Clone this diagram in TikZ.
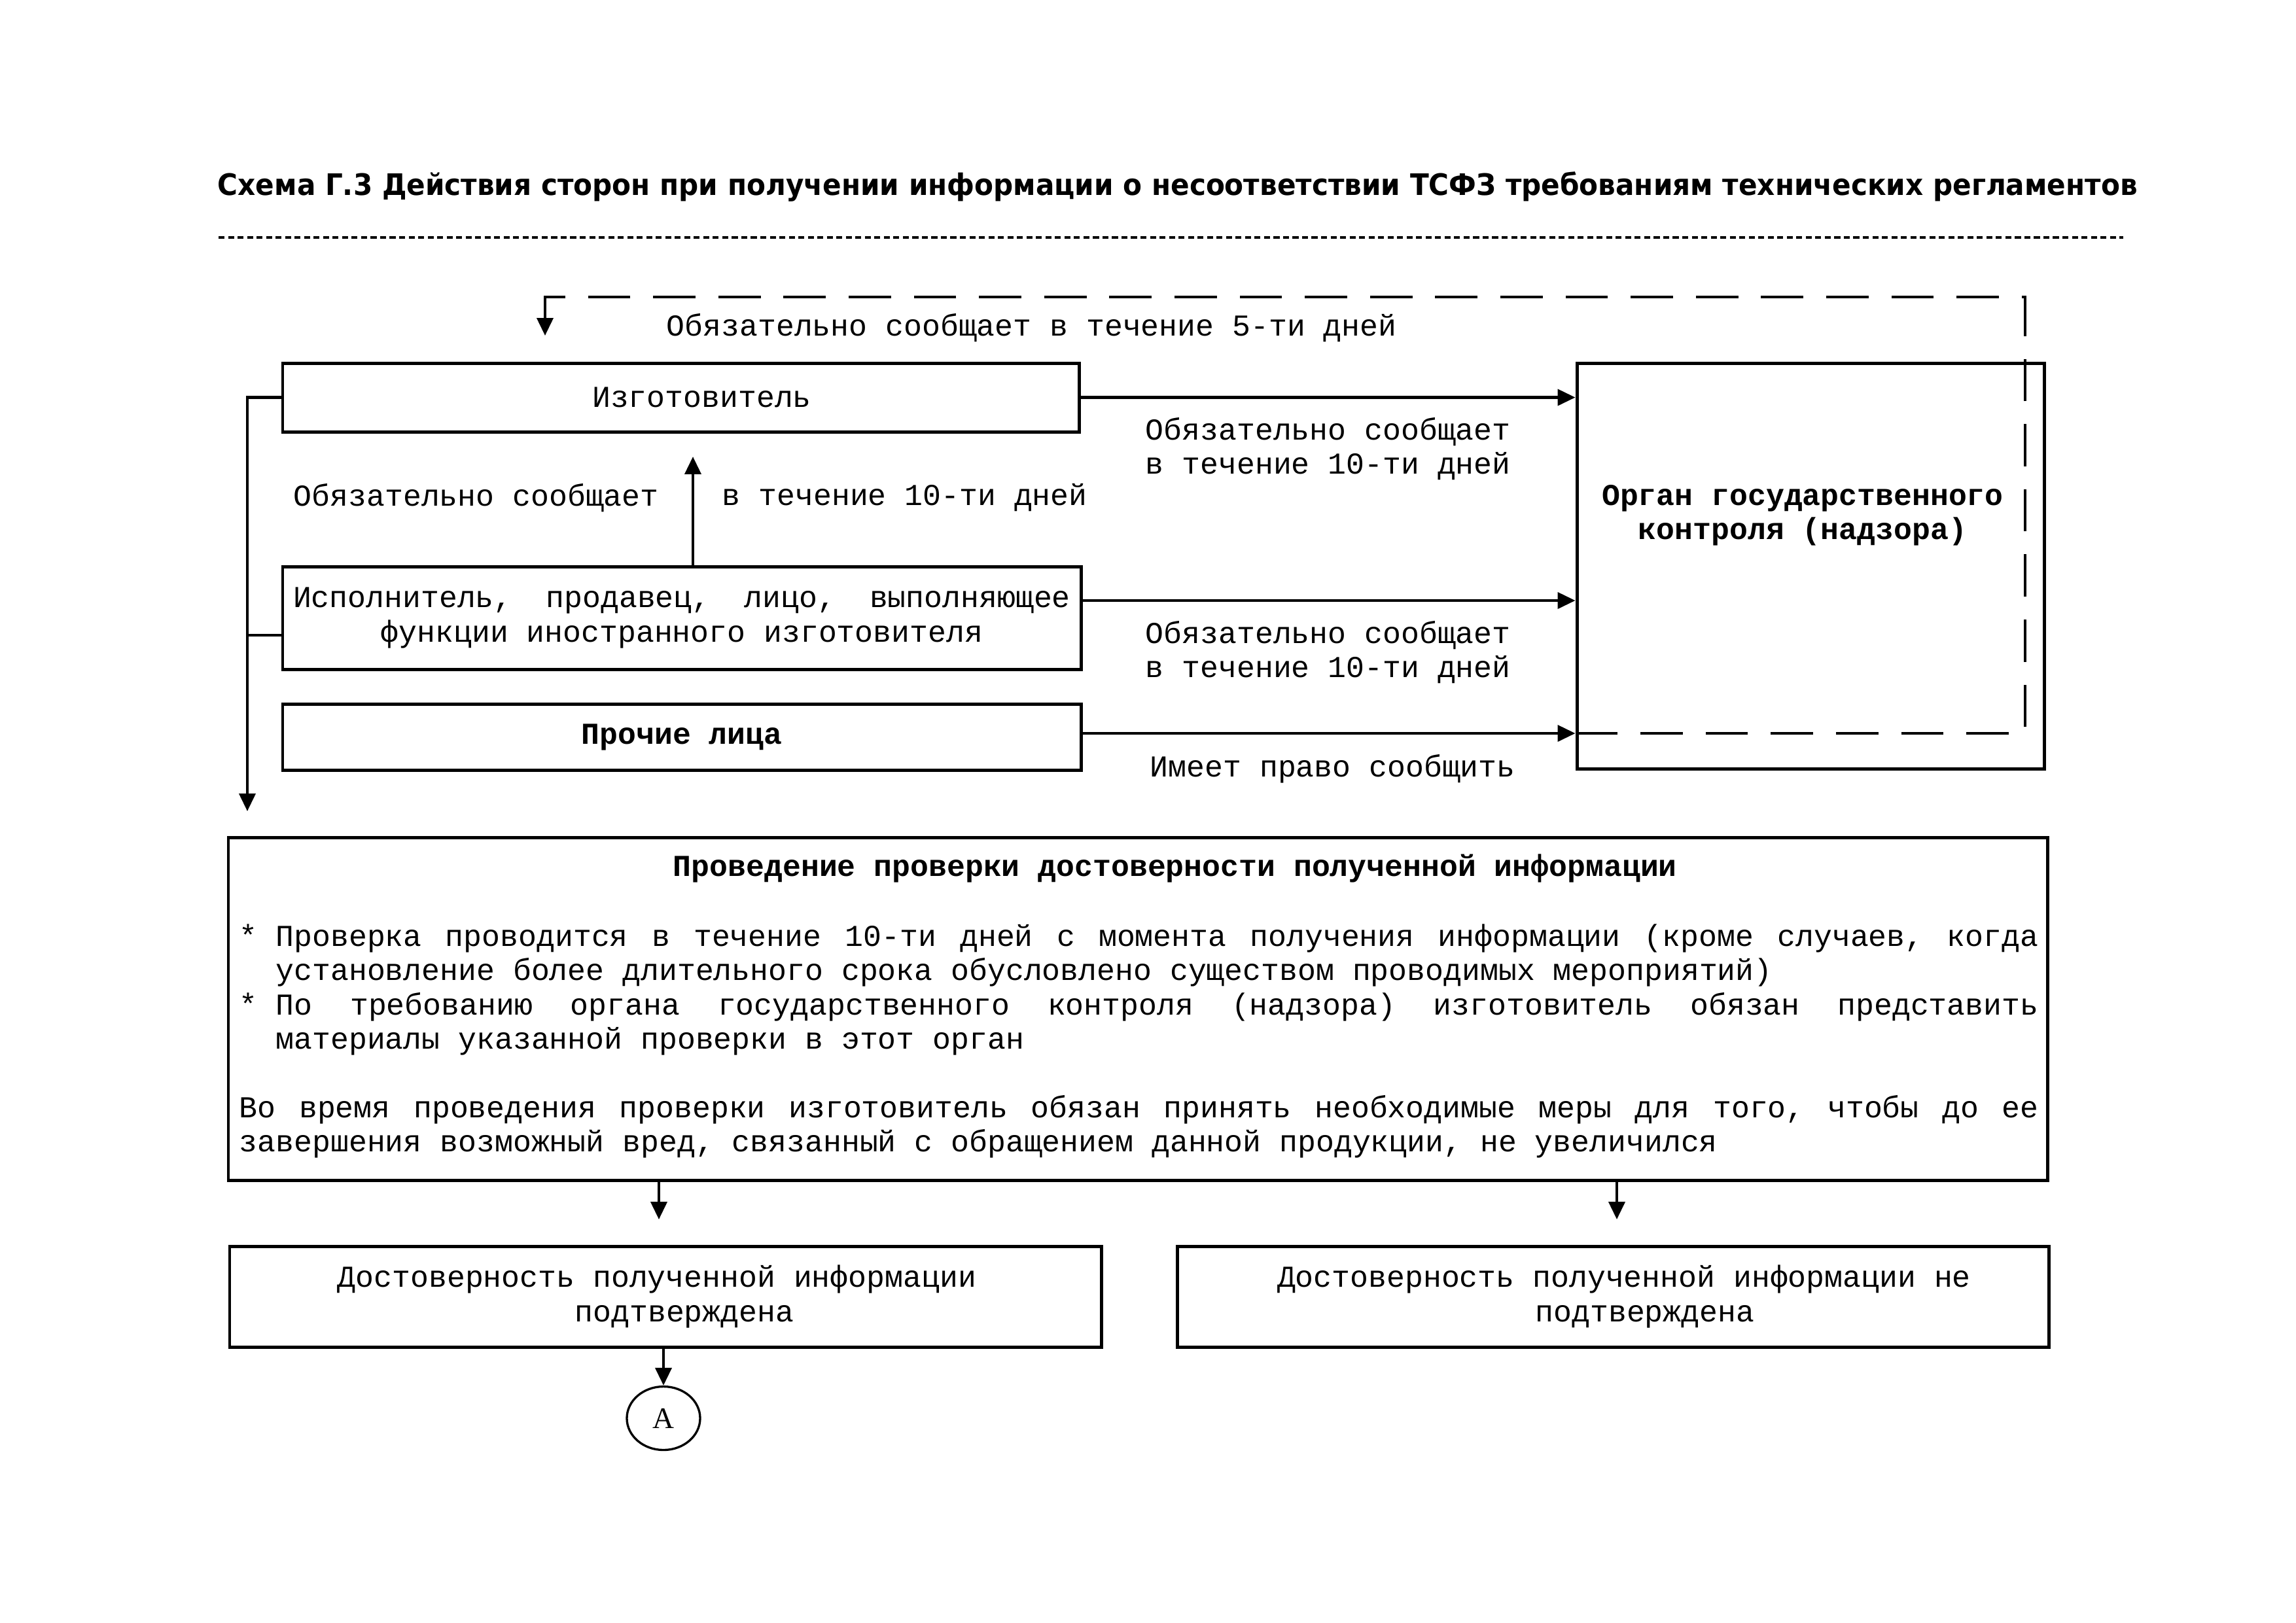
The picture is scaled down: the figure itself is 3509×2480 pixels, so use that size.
\documentclass[tikz,border=0pt]{standalone}
\usepackage{fontspec}
\setmainfont{Liberation Mono}
\newfontfamily\ttlfont{DejaVu Sans}
\newfontfamily\serfont{Liberation Serif}
\usetikzlibrary{arrows.meta,calc,shapes.geometric}
\newdimen\px \px=0.0084667cm
\ExplSyntaxOn
\NewDocumentCommand\jl{mm}{
  \seq_set_split:Nnn \l_tmpa_seq {~} {#2}
  \hbox_to_wd:nn {#1} { \seq_use:Nn \l_tmpa_seq { \ \hfill } }
}
\ExplSyntaxOff
\tikzset{
  every node/.style={font=\fontsize{11.2pt}{12.6pt}\selectfont, inner sep=0pt},
  box/.style={draw, line width=1.2pt},
  lbl/.style={},
  conn/.style={line width=1pt},
  arr/.style={line width=1pt, -{Triangle[length=6.5pt,width=6pt]}},
  dsh/.style={line width=1pt, dash pattern=on 15.6pt off 8.4pt},
  dotline/.style={line width=1.1pt, dash pattern=on 2.2pt off 1.3pt}
}
\begin{document}
\begin{tikzpicture}[x=\px, y=-\px]
\path[use as bounding box, fill=white] (0,0) rectangle (3509,2480);

% title
\node[anchor=base west, font=\ttlfont\bfseries\fontsize{10.9pt}{13pt}\selectfont] (title) at (332,298)
  {\scalebox{0.932}[1]{Схема Г.3 Действия сторон при получении информации о несоответствии ТСФЗ требованиям технических регламентов}};
\coordinate (dl1) at (334,363);
\coordinate (dl2) at (3245,363);
\draw[dotline] (dl1) -- (dl2);

% boxes
\node[box, minimum width=1217\px, minimum height=105\px] (manuf) at (1040.5,607.5) {\hspace*{64\px}Изготовитель};
\node[box, minimum width=1220\px, minimum height=157\px, align=center] (exec) at (1042,944.5)
  {\jl{1188\px}{Исполнитель, продавец, лицо, выполняющее}\\функции иностранного изготовителя};
\node[box, minimum width=1220\px, minimum height=101\px] (other) at (1042,1126.5) {\bfseries Прочие лица};
\node[box, minimum width=714\px, minimum height=620\px] (organ) at (2767,865) {};
\node[align=center, font=\bfseries\fontsize{11.2pt}{12.6pt}\selectfont] (organtxt) at (2755,788)
  {Орган государственного\\контроля (надзора)};

\node[box, minimum width=2780\px, minimum height=524\px] (check) at (1739,1542) {};
\node[font=\bfseries\fontsize{11.2pt}{12.6pt}\selectfont] (chkttl) at (1796,1327)
  {Проведение проверки достоверности полученной информации};
\node[anchor=north west, align=left] (chkbody) at (365,1412)
  {*\ \jl{2694\px}{Проверка проводится в течение 10-ти дней с момента получения информации (кроме случаев, когда}\\
   \hphantom{*}\ установление более длительного срока обусловлено существом проводимых мероприятий)\\
   *\ \jl{2694\px}{По требованию органа государственного контроля (надзора) изготовитель обязан представить}\\
   \hphantom{*}\ материалы указанной проверки в этот орган\\
   \strut\\
   \jl{2750\px}{Во время проведения проверки изготовитель обязан принять необходимые меры для того, чтобы до ее}\\
   завершения возможный вред, связанный с обращением данной продукции, не увеличился};

\node[box, minimum width=1332\px, minimum height=154\px, align=center] (yes) at (1017,1982)
  {\hspace*{-26\px}Достоверность полученной информации\\\hspace*{58\px}подтверждена};
\node[box, minimum width=1332\px, minimum height=154\px, align=center] (no) at (2465,1982)
  {\hspace*{34\px}Достоверность полученной информации не\\\hspace*{98\px}подтверждена};
\node[draw, ellipse, line width=0.8pt, minimum width=112\px, minimum height=97\px,
      font=\serfont\fontsize{11pt}{13pt}\selectfont] (A) at (1014,2168) {A};

% labels
\node[lbl, anchor=west] (l5) at (1018,501) {Обязательно сообщает в течение 5-ти дней};
\node[lbl, anchor=west] (l10a) at (448,761) {Обязательно сообщает};
\node[lbl, anchor=west] (l10b) at (1103,761) {в течение 10-ти дней};
\node[lbl, anchor=west, align=left] (r1) at (1750,686) {Обязательно сообщает\\в течение 10-ти дней};
\node[lbl, anchor=west, align=left] (r2) at (1750,997) {Обязательно сообщает\\в течение 10-ти дней};
\node[lbl, anchor=west] (r3) at (1757,1175) {Имеет право сообщить};

% helper coordinates
\coordinate (y918) at (0,918);
\coordinate (y971) at (0,971);
\coordinate (y1121) at (0,1121);
\coordinate (ltip) at (378,1240);
\coordinate (utip) at (1059,698);
\coordinate (dtip) at (833,513);
\coordinate (dR) at (3095,454);
\coordinate (d1) at (1007,1864);
\coordinate (d2) at (2471,1864);

% connectors
\draw[arr] (manuf.east) -- (manuf.east -| organ.west);
\draw[arr] (exec.east |- y918) -- (organ.west |- y918);
\draw[arr] (other.east |- y1121) -- (organ.west |- y1121);
\draw[arr] (manuf.west) -| (ltip);
\draw[conn] (exec.west |- y971) -- (ltip |- y971);
\draw[arr] (exec.north -| utip) -- (utip);
\draw[dsh] (organ.west |- y1121) -| (dR) -| ($(dtip)+(0,-30)$);
\draw[arr] ($(dtip)+(0,-36)$) -- (dtip);
\draw[arr] (check.south -| d1) -- (d1);
\draw[arr] (check.south -| d2) -- (d2);
\draw[arr] (yes.south -| A.north) -- (A.north);
\end{tikzpicture}
\end{document}
